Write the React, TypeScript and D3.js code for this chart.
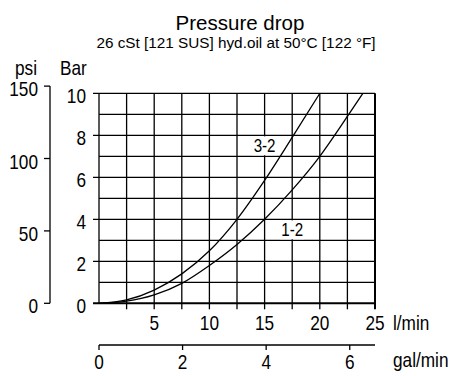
import * as d3 from "d3";

const flowTicks = [5, 10, 15, 20, 25];
const barTicks = [0, 2, 4, 6, 8, 10];
const psiTicks = [0, 50, 100, 150];
const galTicks = [0, 2, 4, 6];

// curve 3-2 : flow (l/min) -> pressure drop (bar)
const flow32 = [0, 2.5, 5, 7.5, 10, 12.5, 15, 17.5, 20];
const bar32 = [0, 0.16, 0.63, 1.4, 2.5, 4.0, 5.85, 7.9, 10];
// curve 1-2
const flow12 = [0, 2.5, 5, 7.5, 10, 12.5, 15, 17.5, 20, 22.5, 23.9];
const bar12 = [0, 0.1, 0.4, 0.95, 1.8, 2.8, 4.0, 5.4, 7.0, 8.9, 10];

const curveNames = ["3-2", "1-2"];
const labelFlow = [15, 17.5];
const labelBar = [7.5, 3.5];

const PSI_PER_BAR = 14.5038;
const L_PER_GAL = 3.78541;

const width = 453;
const height = 376;
const marginLeft = 99;
const plotRight = 375;
const plotTop = 93.3;
const plotBottom = 303.3;

const font = "'Liberation Sans', Arial, sans-serif";

// narrow text (the source uses a condensed face for axis text)
function NText({
  x,
  y,
  size,
  anchor = "start",
  children,
}: {
  x: number;
  y: number;
  size: number;
  anchor?: string;
  children: any;
}) {
  return (
    <text
      transform={`translate(${x},${y}) scale(0.82,1)`}
      fontSize={size}
      fontFamily={font}
      textAnchor={anchor}
      fill="#000"
    >
      {children}
    </text>
  );
}

export default function App() {
  const x = d3.scaleLinear([0, 25], [marginLeft, plotRight]);
  const y = d3.scaleLinear([0, 10], [plotBottom, plotTop]);
  const yPsi = d3.scaleLinear([0, 10 * PSI_PER_BAR], [plotBottom, plotTop]);
  const xGal = d3.scaleLinear([0, 25 / L_PER_GAL], [marginLeft, plotRight]);

  const path32 = d3
    .line<number>((d) => x(d), (d, i) => y(bar32[i]))
    .curve(d3.curveMonotoneX)(flow32)!;
  const path12 = d3
    .line<number>((d) => x(d), (d, i) => y(bar12[i]))
    .curve(d3.curveMonotoneX)(flow12)!;

  const vGrid = d3.range(0, 26, 2.5);
  const hGrid = d3.range(0, 11, 1);

  return (
    <svg
      width={width}
      height={height}
      style={{ position: "absolute", left: 0, top: 0, background: "#fff" }}
    >
      <text
        x={240}
        y={30}
        fontSize={20.5}
        fontFamily={font}
        textAnchor="middle"
      >
        Pressure drop
      </text>
      <text
        x={236}
        y={48}
        fontSize={15.3}
        fontFamily={font}
        textAnchor="middle"
      >
        26 cSt [121 SUS] hyd.oil at 50°C [122 °F]
      </text>

      <NText x={15} y={75} size={21}>
        psi
      </NText>
      <NText x={60} y={75} size={21}>
        Bar
      </NText>

      {/* psi axis */}
      <g stroke="#000" strokeWidth={1.3}>
        <line x1={50} x2={50} y1={yPsi(150)} y2={plotBottom} />
        {psiTicks.map((t) => (
          <line key={t} x1={44} x2={50} y1={yPsi(t)} y2={yPsi(t)} />
        ))}
      </g>
      {psiTicks.map((t) => (
        <NText key={t} x={38} y={yPsi(t) + 10} size={21} anchor="end">
          {t}
        </NText>
      ))}

      {/* grid */}
      <g stroke="#000" strokeWidth={1.3}>
        {vGrid.map((v) => (
          <line
            key={"v" + v}
            x1={x(v)}
            x2={x(v)}
            y1={plotTop}
            y2={v === 0 ? plotBottom : plotBottom + 6}
            strokeWidth={v === 25 ? 2 : 1.3}
          />
        ))}
        {hGrid.map((h) => (
          <line
            key={"h" + h}
            x1={h % 2 === 0 ? marginLeft - 6 : marginLeft}
            x2={plotRight}
            y1={y(h)}
            y2={y(h)}
            strokeWidth={h === 0 ? 2 : 1.3}
          />
        ))}
      </g>
      {barTicks.map((t) => (
        <NText key={t} x={86} y={y(t) + 10} size={21} anchor="end">
          {t}
        </NText>
      ))}
      {flowTicks.map((t) => (
        <NText key={t} x={x(t)} y={329.5} size={21} anchor="middle">
          {t}
        </NText>
      ))}
      <NText x={393} y={330} size={21}>
        l/min
      </NText>

      {/* gal/min axis */}
      <g stroke="#000" strokeWidth={1.3}>
        <line x1={marginLeft} x2={plotRight} y1={345} y2={345} />
        {galTicks.map((t) => (
          <line key={t} x1={xGal(t)} x2={xGal(t)} y1={345} y2={350} />
        ))}
      </g>
      {galTicks.map((t) => (
        <NText key={t} x={xGal(t)} y={369} size={21} anchor="middle">
          {t}
        </NText>
      ))}
      <NText x={393} y={367} size={21}>
        gal/min
      </NText>

      {/* curve labels on white boxes */}
      {curveNames.map((n, i) => (
        <g key={n}>
          <rect
            x={x(labelFlow[i]) - 12}
            y={y(Math.floor(labelBar[i]) + 0.95)}
            width={24}
            height={y(Math.floor(labelBar[i]) + 0.05) - y(Math.floor(labelBar[i]) + 0.95)}
            fill="#fff"
          />
          <NText
            x={x(labelFlow[i])}
            y={y(labelBar[i]) + 6.6}
            size={18.5}
            anchor="middle"
          >
            {n}
          </NText>
        </g>
      ))}

      <path d={path32} fill="none" stroke="#000" strokeWidth={1.3} />
      <path d={path12} fill="none" stroke="#000" strokeWidth={1.3} />
    </svg>
  );
}
